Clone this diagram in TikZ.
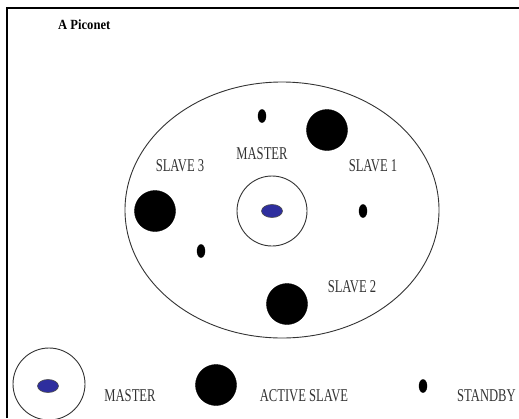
\documentclass[tikz,border=0pt]{standalone}
\usepackage{fontspec}
\setmainfont{Liberation Serif}
\usetikzlibrary{shapes.geometric}
\definecolor{ink}{HTML}{333333}
\definecolor{masterblue}{HTML}{2E2E9E}
\tikzset{
  lbl/.style={text=ink, font=\fontsize{18}{18}\selectfont, inner sep=0pt},
  active/.style={circle, fill=black, draw=black, minimum size=41pt, inner sep=0pt},
  standby/.style={ellipse, fill=black, draw=black, minimum width=8pt, minimum height=13pt, inner sep=0pt},
  ring/.style={circle, draw=ink, line width=0.9pt, minimum size=70pt, inner sep=0pt},
  core/.style={ellipse, fill=masterblue, draw=black!70, line width=0.6pt, minimum width=21pt, minimum height=13pt, inner sep=0pt}
}
\newcommand{\squeeze}[1]{\scalebox{0.7}[1]{#1}}
\begin{document}
\begin{tikzpicture}[x=1pt,y=-1pt]
\useasboundingbox (0,0) rectangle (519,418);
\fill[white] (0,0) rectangle (519,418);
% frame
\draw[line width=2pt] (7,418) -- (7,8) -- (519,8);
% title
\node[text=black, font=\bfseries\fontsize{14}{14}\selectfont, inner sep=0pt, anchor=west] (title) at (58,25) {\scalebox{0.9}[1]{A Piconet}};
% piconet boundary
\node[ellipse, draw=ink, line width=0.9pt, minimum width=314pt, minimum height=256pt, inner sep=0pt] (net) at (282,210) {};
% master
\node[ring] (mring) at (272,211) {};
\node[core] (mcore) at (272,211) {};
\node[lbl] (mlabel) at (262,154) {\squeeze{MASTER}};
% active slaves
\node[active] (s1) at (327,130) {};
\node[active] (s3) at (155,211) {};
\node[active] (s2) at (287,304) {};
\node[lbl] (l1) at (373,166) {\squeeze{SLAVE 1}};
\node[lbl] (l3) at (180,166) {\squeeze{SLAVE 3}};
\node[lbl] (l2) at (352,287) {\squeeze{SLAVE 2}};
% standby devices
\node[standby] (sb1) at (262,116) {};
\node[standby] (sb2) at (363,211) {};
\node[standby] (sb3) at (201,251) {};
% legend
\node[ring, minimum size=72pt] (kring) at (49,384) {};
\node[core] (kcore) at (48,386) {};
\node[lbl] (kmaster) at (130,396) {\squeeze{MASTER}};
\node[active] (kactive) at (216,385) {};
\node[lbl] (kactivel) at (304,396) {\squeeze{ACTIVE SLAVE}};
\node[standby] (kstandby) at (423,386) {};
\node[lbl, anchor=west] (kstandbyl) at (457,396) {\squeeze{STANDBY}};
\end{tikzpicture}
\end{document}
